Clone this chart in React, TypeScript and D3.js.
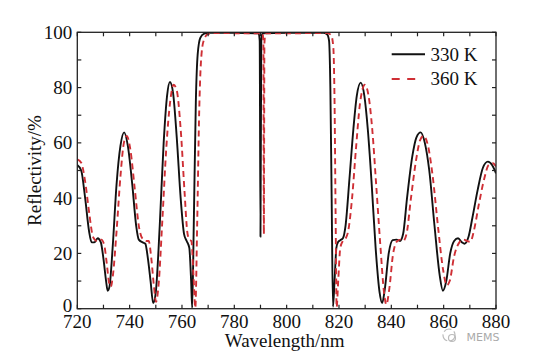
import React from "react";
import * as d3 from "d3";

const xTicks = [720, 740, 760, 780, 800, 820, 840, 860, 880];
const yTicks = [0, 20, 40, 60, 80, 100];
const seriesNames = ["330 K", "360 K"];

const wl330 = [720, 721.5, 723, 724.5, 725.5, 726.5, 727.8, 729, 730, 731, 731.6, 732.3, 733.5, 735, 736.5, 737.9, 739.3, 741, 742.5, 743.5, 745, 746, 747, 748, 749, 750, 751.5, 753, 754.3, 755.4, 756.6, 758, 759.5, 760.8, 761.8, 762.8, 763.5, 763.9, 764.5, 765.3, 766, 767, 768.5, 770, 780, 789.3, 789.7, 790, 790.3, 790.7, 800, 814, 815.5, 816.2, 816.7, 817.2, 817.7, 818.3, 819, 819.7, 820.5, 821.5, 822.5, 824, 825.5, 826.8, 828.3, 829.7, 831, 832.5, 834, 835.5, 836.5, 837.5, 839, 840.5, 842, 843.3, 844.5, 846, 848, 849.6, 851.2, 852.8, 854.5, 856.5, 858.5, 859.7, 861, 862.5, 864, 865.5, 867, 868, 869.5, 871, 873, 875, 876.9, 878.5, 880];
const r330 = [52, 50, 40, 28, 24, 24, 25.5, 24, 18, 10, 6.5, 8, 22, 45, 59, 63.8, 59, 45, 30, 25, 24, 23.5, 18, 10, 2, 6, 30, 60, 77, 82, 78, 62, 40, 27, 24.5, 22, 10, 0.3, 30, 75, 92, 98, 99.5, 99.8, 99.8, 99.6, 97, 26, 97, 99.6, 99.8, 99.8, 99.2, 97, 80, 40, 0.7, 10, 22, 24.2, 24.8, 25.5, 30, 47, 65, 77, 81.8, 77, 65, 45, 22, 6, 2, 7, 20, 24.8, 25, 24.5, 27, 40, 55, 62, 63.8, 60, 50, 30, 12, 6.5, 10, 20, 24.5, 25.5, 24, 23.5, 26, 33, 43, 51, 53.2, 52, 49];

const wl360 = [720, 721.5, 723, 724.5, 726, 727.5, 729.2, 730.3, 731.3, 732.2, 732.8, 733.6, 735, 736.5, 737.8, 738.9, 740.2, 742, 743.5, 744.8, 746.5, 747.3, 748.3, 749.3, 750.1, 751, 752.5, 754, 755.5, 756.8, 758, 759.5, 761, 762, 762.8, 763.6, 764.4, 765.1, 765.8, 766.6, 767.3, 768.3, 770, 772, 790.8, 791.1, 791.3, 791.5, 791.9, 815.5, 817, 817.8, 818.3, 818.7, 819.1, 819.7, 820.5, 821.5, 822.6, 823.5, 825, 826.5, 828, 829.9, 831.3, 832.7, 834.2, 835.8, 837.2, 838.1, 839.2, 840.7, 842.3, 843.5, 844.5, 845.8, 847.5, 849.5, 851, 852.3, 854, 855.8, 857.8, 859.8, 861.2, 862.3, 864, 866, 867.5, 869, 870.2, 871.5, 873.5, 875.5, 877.2, 878.8, 880];
const r360 = [54, 52.8, 46, 35, 26, 24.5, 25, 23, 16, 9, 8, 12, 28, 48, 60, 62.5, 58, 43, 30, 25.5, 24.5, 24.5, 18, 8, 2.5, 8, 32, 58, 75, 81, 79, 65, 42, 28, 25, 24.5, 12, 0.3, 30, 72, 90, 97, 99.4, 99.7, 99.6, 96, 27, 96, 99.6, 99.7, 99, 95, 75, 35, 0.5, 10, 22, 24.5, 25.5, 28, 40, 58, 74, 81, 77, 65, 45, 23, 6, 1.5, 7, 20, 24.5, 25, 24.5, 27, 40, 54, 61, 62.5, 59, 48, 30, 14, 8.5, 10, 19, 24, 25, 24.5, 24.2, 28, 38, 47, 52, 52.6, 51.5];

const W = 555;
const H = 361;
const L = 77.3, R = 496, T = 32.3, B = 308.7;
const FONT = "'Liberation Serif', 'Times New Roman', serif";
const RED = "#cf2f35";

export default function App() {
  const x = d3.scaleLinear().domain([720, 880]).range([L, R]);
  const y = d3.scaleLinear().domain([0, 100]).range([B, T]);
  const line = d3
    .line<[number, number]>()
    .x((d) => x(d[0]))
    .y((d) => y(d[1]))
    .curve(d3.curveMonotoneX);
  const d330 = line(wl330.map((w, i) => [w, r330[i]] as [number, number])) || "";
  const d360 = line(wl360.map((w, i) => [w, r360[i]] as [number, number])) || "";

  const xMinor = d3.range(720, 881, 10);
  const yMinor = d3.range(0, 101, 10);
  const tk = 4;
  const axisColor = "#222";

  return (
    <svg
      width={W}
      height={H}
      style={{ position: "absolute", left: 0, top: 0, background: "#fff" }}
      fontFamily={FONT}
    >
      <defs>
        <clipPath id="plotclip">
          <rect x={L} y={T - 2} width={R - L} height={B - T + 4} />
        </clipPath>
      </defs>
      <rect x={0} y={0} width={W} height={H} fill="#fff" />
      <g clipPath="url(#plotclip)">
        <path d={d330} fill="none" stroke="#111" strokeWidth={1.9} strokeLinejoin="round" />
        <path d={d360} fill="none" stroke={RED} strokeWidth={1.9} strokeDasharray="6,4" />
      </g>
      <rect x={L} y={T} width={R - L} height={B - T} fill="none" stroke={axisColor} strokeWidth={1.3} />
      {xMinor.map((v) => (
        <g key={"xt" + v}>
          <line x1={x(v)} x2={x(v)} y1={B} y2={B - tk} stroke={axisColor} strokeWidth={1.2} />
          <line x1={x(v)} x2={x(v)} y1={T} y2={T + tk} stroke={axisColor} strokeWidth={1.2} />
        </g>
      ))}
      {yMinor.map((v) => (
        <g key={"yt" + v}>
          <line x1={L} x2={L + tk} y1={y(v)} y2={y(v)} stroke={axisColor} strokeWidth={1.2} />
          <line x1={R} x2={R - tk} y1={y(v)} y2={y(v)} stroke={axisColor} strokeWidth={1.2} />
        </g>
      ))}
      {xTicks.map((v) => (
        <text key={"xl" + v} x={x(v)} y={328} fontSize={19} textAnchor="middle" fill="#111">
          {v}
        </text>
      ))}
      {yTicks.map((v) => (
        <text
          key={"yl" + v}
          x={L - 5}
          y={y(v) + (v === 0 ? 3 : 6.5)}
          fontSize={19}
          textAnchor="end"
          fill="#111"
        >
          {v}
        </text>
      ))}
      <text x={(L + R) / 2 - 2} y={347} fontSize={19} textAnchor="middle" fill="#111">
        Wavelength/nm
      </text>
      <text
        transform={`translate(41, ${(T + B) / 2}) rotate(-90)`}
        fontSize={19}
        textAnchor="middle"
        fill="#111"
      >
        Reflectivity/%
      </text>
      <line x1={391.7} x2={425} y1={54.3} y2={54.3} stroke="#111" strokeWidth={1.9} />
      <text x={430.5} y={60.5} fontSize={19} fill="#111">
        {seriesNames[0]}
      </text>
      <line x1={391.7} x2={415.5} y1={79} y2={79} stroke={RED} strokeWidth={1.9} strokeDasharray="8,7.5" />
      <text x={430.5} y={85} fontSize={19} fill="#111">
        {seriesNames[1]}
      </text>
      <g stroke="#bbb" fill="none" strokeWidth={1.2}>
        <circle cx={449} cy={335} r={6} strokeDasharray="8,3" />
        <circle cx={452} cy={338} r={3.5} />
      </g>
      <text x={466.5} y={340.5} fontSize={11} fill="#aaa" fontFamily="'DejaVu Sans', sans-serif">
        MEMS
      </text>
    </svg>
  );
}
